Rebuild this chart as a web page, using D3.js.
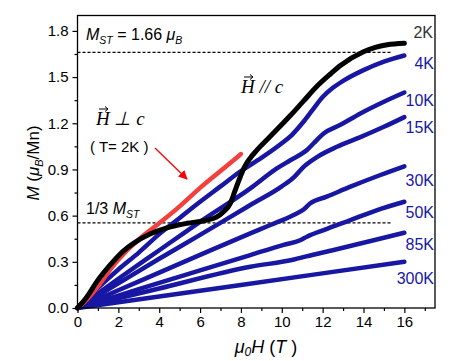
<!DOCTYPE html>
<html>
<head>
<meta charset="utf-8">
<script src="https://cdn.jsdelivr.net/npm/d3@7"></script>
<style>
  body { margin: 0; background: #fff; }
  svg text { font-family: "Liberation Sans", Arial, sans-serif; }
  .serif { font-family: "Liberation Serif", "Times New Roman", serif; font-style: italic; }
</style>
</head>
<body>
<svg id="chart" width="471" height="361"></svg>
<script>
// field (T) and moment (muB/Mn) per curve
const h2K = [0, 0.2, 0.45, 0.94, 1.6, 2.24, 2.74, 3.55, 4.37, 5.35, 6.3, 6.8, 7.15, 7.48, 7.72, 7.97, 8.21, 8.46, 8.78, 9.44, 10.42, 11.07, 11.72, 12.38, 12.87, 14.0, 15.16, 16]
const m2K = [0, 0.03, 0.07, 0.17, 0.28, 0.37, 0.42, 0.48, 0.52, 0.55, 0.57, 0.59, 0.625, 0.68, 0.766, 0.853, 0.925, 0.975, 1.025, 1.115, 1.25, 1.345, 1.44, 1.52, 1.575, 1.665, 1.71, 1.72]
const hPerp = [0, 0.5, 1, 1.6, 2.4, 3.15, 4, 5, 6, 7, 8]
const mPerp = [0, 0.06, 0.14, 0.25, 0.37, 0.463, 0.55, 0.66, 0.78, 0.89, 1.0]
const h4K = [0, 1, 2, 3, 4, 5, 6, 7, 8, 9, 10, 10.5, 11, 11.5, 12, 12.5, 13, 14, 15, 16]
const m4K = [0, 0.13, 0.25, 0.36, 0.48, 0.585, 0.69, 0.79, 0.89, 0.975, 1.07, 1.125, 1.2, 1.285, 1.37, 1.43, 1.475, 1.545, 1.6, 1.64]
const h10K = [0, 2, 4, 6, 8.46, 9.76, 10.42, 11.23, 11.56, 12.05, 12.87, 13.85, 15, 16]
const m10K = [0, 0.19, 0.375, 0.56, 0.777, 0.907, 0.96, 1.026, 1.07, 1.134, 1.19, 1.264, 1.34, 1.40]
const h15K = [0, 2, 4, 6, 8.46, 10, 10.6, 11.07, 11.72, 12.7, 13.85, 15, 16]
const m15K = [0, 0.16, 0.32, 0.475, 0.669, 0.79, 0.85, 0.917, 0.98, 1.047, 1.11, 1.177, 1.24]
const h30K = [0, 2, 4, 6, 8.46, 9.44, 10.58, 11.07, 11.4, 12.2, 13.36, 14.83, 16]
const m30K = [0, 0.115, 0.23, 0.345, 0.485, 0.539, 0.604, 0.64, 0.68, 0.723, 0.788, 0.864, 0.92]
const h50K = [0, 2, 4, 6, 8.46, 10.09, 10.9, 11.23, 12.05, 13.36, 14.67, 16]
const m50K = [0, 0.081, 0.163, 0.244, 0.344, 0.41, 0.44, 0.463, 0.506, 0.571, 0.636, 0.69]
const h85K = [0, 4, 8.46, 10.6, 11.2, 12.54, 14.5, 16]
const m85K = [0, 0.127, 0.268, 0.315, 0.335, 0.377, 0.44, 0.489]
const h300K = [0, 8, 16]
const m300K = [0, 0.15, 0.30]

const blueLabels = ['4K', '10K', '15K', '30K', '50K', '85K', '300K']
const blueH = [h4K, h10K, h15K, h30K, h50K, h85K, h300K]
const blueM = [m4K, m10K, m15K, m30K, m50K, m85K, m300K]

const xTicks = [0, 2, 4, 6, 8, 10, 12, 14, 16]
const yTicks = [0, 0.3, 0.6, 0.9, 1.2, 1.5, 1.8]
const mSat = 1.66

const svg = d3.select('#chart')
const plotLeft = 77.5, plotRight = 435, plotTop = 15.5, plotBottom = 308

const x = d3.scaleLinear().domain([0, 17.5]).range([plotLeft, plotRight])
const y = d3.scaleLinear().domain([0, 1.9]).range([plotBottom, plotTop])

// label baselines (in M units, right of the plot)
const labelY = [1.552, 1.312, 1.137, 0.792, 0.583, 0.377, 0.156]

const BLUE = '#1717a3'
const RED = '#f2403c'

function pts (hs, ms) {
  return hs.map((h, i) => [h, ms[i]])
}

const line = d3.line()
  .x(d => x(d[0]))
  .y(d => y(d[1]))
  .curve(d3.curveMonotoneX)

// dashed reference lines
svg.append('g')
  .selectAll('line')
  .data([mSat, mSat / 3])
  .enter()
  .append('line')
  .attr('x1', x(0))
  .attr('x2', x(15.4))
  .attr('y1', d => y(d))
  .attr('y2', d => y(d))
  .attr('stroke', '#000')
  .attr('stroke-width', 1.2)
  .attr('stroke-dasharray', '3,2')

// blue curves
svg.append('g')
  .selectAll('path')
  .data(blueH.map((hs, i) => pts(hs, blueM[i])))
  .enter()
  .append('path')
  .attr('d', line)
  .attr('fill', 'none')
  .attr('stroke', BLUE)
  .attr('stroke-width', 4.5)
  .attr('stroke-linecap', 'round')

// H perp c, red
svg.append('path')
  .attr('d', line(pts(hPerp, mPerp)))
  .attr('fill', 'none')
  .attr('stroke', RED)
  .attr('stroke-width', 4.5)
  .attr('stroke-linecap', 'round')

// 2K, H // c
svg.append('path')
  .attr('d', line(pts(h2K, m2K)))
  .attr('fill', 'none')
  .attr('stroke', '#000')
  .attr('stroke-width', 5)
  .attr('stroke-linecap', 'round')

// frame
svg.append('rect')
  .attr('x', plotLeft)
  .attr('y', plotTop)
  .attr('width', plotRight - plotLeft)
  .attr('height', plotBottom - plotTop)
  .attr('fill', 'none')
  .attr('stroke', '#000')
  .attr('stroke-width', 1.3)

// axes
svg.append('g')
  .attr('transform', 'translate(0,' + plotBottom + ')')
  .call(d3.axisBottom(x).tickValues(xTicks).tickSize(5).tickPadding(3).tickFormat(d3.format('d')))
svg.append('g')
  .attr('transform', 'translate(0,' + plotBottom + ')')
  .call(d3.axisBottom(x).tickValues(d3.range(1, 18, 2)).tickSize(3).tickFormat(''))
svg.append('g')
  .attr('transform', 'translate(' + plotLeft + ',0)')
  .call(d3.axisLeft(y).tickValues(yTicks).tickSize(5).tickPadding(4).tickFormat(d3.format('.1f')))
svg.append('g')
  .attr('transform', 'translate(' + plotLeft + ',0)')
  .call(d3.axisLeft(y).tickValues(d3.range(0.15, 1.8, 0.3)).tickSize(3).tickFormat(''))

svg.selectAll('.domain').remove()
svg.selectAll('.tick line').attr('stroke', '#000').attr('stroke-width', 1.2)
svg.selectAll('.tick text')
  .attr('fill', '#000')
  .style('font-size', '15px')
  .style('font-family', '"Liberation Sans", Arial, sans-serif')

// curve labels
svg.append('text')
  .attr('x', 433).attr('y', 38)
  .attr('text-anchor', 'end')
  .attr('fill', '#333')
  .style('font-size', '16px')
  .text('2K')
svg.append('g')
  .selectAll('text')
  .data(blueLabels)
  .enter()
  .append('text')
  .attr('x', 434)
  .attr('y', (d, i) => y(labelY[i]))
  .attr('text-anchor', 'end')
  .attr('fill', BLUE)
  .style('font-size', '16px')
  .text(d => d)

// axis titles
const xt = svg.append('text')
  .attr('x', 266).attr('y', 353)
  .attr('text-anchor', 'middle')
  .style('font-size', '18px')
xt.append('tspan').style('font-style', 'italic').text('μ')
xt.append('tspan').attr('dy', 3).style('font-size', '12px').style('font-style', 'italic').text('0')
xt.append('tspan').attr('dy', -3).style('font-style', 'italic').text('H')
xt.append('tspan').text(' (')
xt.append('tspan').style('font-style', 'italic').text('T')
xt.append('tspan').text(' )')

const yt = svg.append('text')
  .attr('transform', 'translate(39,163) rotate(-90)')
  .attr('text-anchor', 'middle')
  .style('font-size', '17px')
yt.append('tspan').style('font-style', 'italic').text('M')
yt.append('tspan').text(' (')
yt.append('tspan').style('font-style', 'italic').text('μ')
yt.append('tspan').attr('dy', 4).style('font-size', '11px').style('font-style', 'italic').text('B')
yt.append('tspan').attr('dy', -4).text('/Mn)')

// annotations
const sat = svg.append('text')
  .attr('x', 86).attr('y', 40)
  .style('font-size', '16px')
sat.append('tspan').style('font-style', 'italic').text('M')
sat.append('tspan').attr('dy', 4).style('font-size', '10.5px').style('font-style', 'italic').text('ST')
sat.append('tspan').attr('dy', -4).text(' = ' + mSat.toFixed(2) + ' ')
sat.append('tspan').style('font-style', 'italic').text('μ')
sat.append('tspan').attr('dy', 4).style('font-size', '10.5px').style('font-style', 'italic').text('B')

const third = svg.append('text')
  .attr('x', 86).attr('y', 214)
  .style('font-size', '16px')
third.append('tspan').text('1/3 ')
third.append('tspan').style('font-style', 'italic').text('M')
third.append('tspan').attr('dy', 4).style('font-size', '10.5px').style('font-style', 'italic').text('ST')

function vecH (x0, y0, label) {
  svg.append('text')
    .attr('class', 'serif')
    .attr('x', x0).attr('y', y0)
    .style('font-size', '19px')
    .text(label)
  svg.append('path')
    .attr('d', 'M' + (x0 + 3) + ',' + (y0 - 16) + 'h9 M' + (x0 + 9) + ',' + (y0 - 18.5) + 'l3,2.5l-3,2.5')
    .attr('fill', 'none')
    .attr('stroke', '#000')
    .attr('stroke-width', 1)
}
vecH(96, 125, 'H ⊥ c')
vecH(241, 93, 'H // c')

svg.append('text')
  .attr('x', 90).attr('y', 152)
  .style('font-size', '15px')
  .text('( T= 2K )')

svg.append('defs').append('marker')
  .attr('id', 'head')
  .attr('viewBox', '0 0 10 10')
  .attr('refX', 9).attr('refY', 5)
  .attr('markerWidth', 7).attr('markerHeight', 7)
  .attr('orient', 'auto')
  .append('path')
  .attr('d', 'M0,0L10,5L0,10z')
  .attr('fill', '#f00')
svg.append('line')
  .attr('x1', 155).attr('y1', 148)
  .attr('x2', 187).attr('y2', 179)
  .attr('stroke', '#f00')
  .attr('stroke-width', 1.3)
  .attr('marker-end', 'url(#head)')
</script>
</body>
</html>
